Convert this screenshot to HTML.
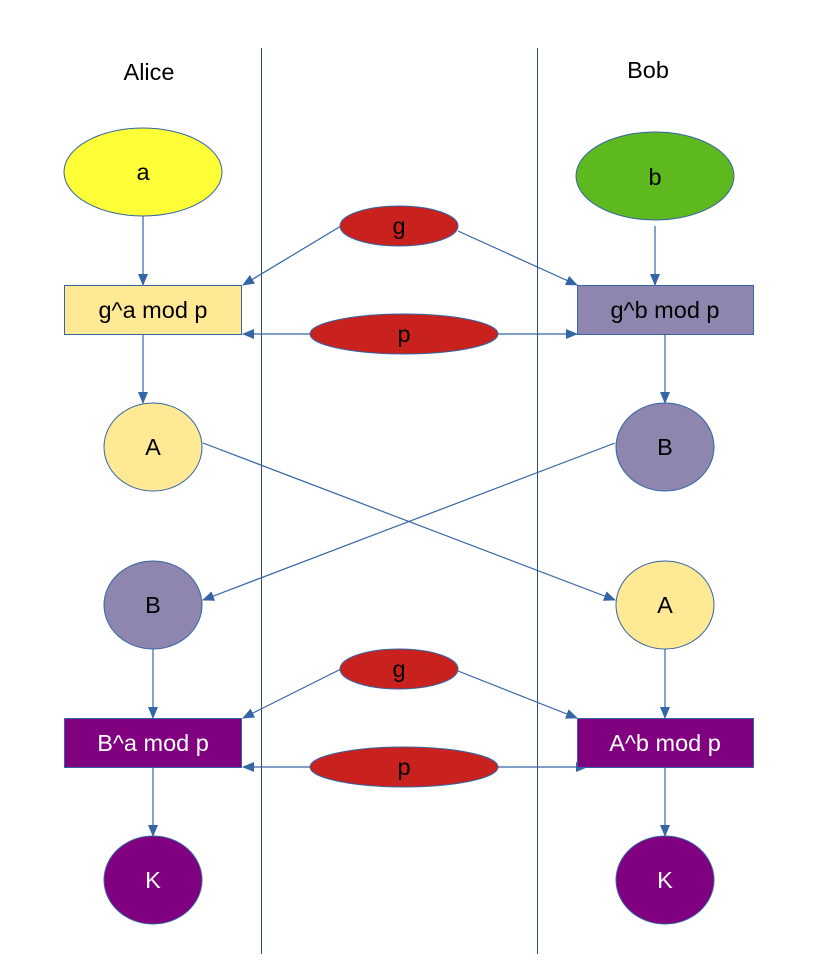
<!DOCTYPE html>
<html><head><meta charset="utf-8"><style>
html,body{margin:0;padding:0;background:#fff;}
svg text{font-family:"Liberation Sans",sans-serif;font-size:23.5px;text-anchor:middle;dominant-baseline:central;}
</style></head><body>
<svg width="831" height="966" viewBox="0 0 831 966" xmlns="http://www.w3.org/2000/svg">
<defs>
<marker id="ar" markerWidth="12" markerHeight="10" refX="11" refY="5" orient="auto" markerUnits="userSpaceOnUse">
<path d="M0,0 L12,5 L0,10 Z" fill="#3465a4"/></marker>
</defs>
<g stroke="#2e4a6e" stroke-width="1">
<line x1="261.5" y1="48" x2="261.5" y2="954"/>
<line x1="537.5" y1="48" x2="537.5" y2="954"/>
</g>
<text x="149" y="72">Alice</text>
<text x="648" y="70">Bob</text>
<g stroke="#3465a4" stroke-width="1.2" fill="none" marker-end="url(#ar)">
<line x1="143" y1="216" x2="143" y2="285"/>
<line x1="341" y1="226" x2="243" y2="285"/>
<line x1="458" y1="231" x2="577" y2="285"/>
<line x1="311" y1="334" x2="243" y2="334"/>
<line x1="497" y1="334" x2="577" y2="334"/>
<line x1="143" y1="334" x2="143" y2="403"/>
<line x1="655" y1="226" x2="655" y2="285"/>
<line x1="665" y1="334" x2="665" y2="403"/>
<line x1="203" y1="443" x2="615" y2="600"/>
<line x1="615" y1="443" x2="203" y2="600"/>
<line x1="153" y1="649" x2="153" y2="718"/>
<line x1="665" y1="649" x2="665" y2="718"/>
<line x1="341" y1="669" x2="243" y2="718"/>
<line x1="458" y1="671" x2="577" y2="718"/>
<line x1="311" y1="767" x2="243" y2="767"/>
<line x1="497" y1="767" x2="587" y2="767"/>
<line x1="153" y1="767" x2="153" y2="836"/>
<line x1="665" y1="767" x2="665" y2="836"/>
</g>
<g stroke="#3465a4" stroke-width="1">
<ellipse cx="143" cy="172" rx="79" ry="44" fill="#ffff38"/>
<ellipse cx="655" cy="176" rx="79" ry="44" fill="#5eb91e"/>
<ellipse cx="399" cy="226" rx="59" ry="20" fill="#c9211e"/>
<ellipse cx="404" cy="334" rx="94" ry="20" fill="#c9211e"/>
<rect x="64.5" y="285.5" width="177" height="49" fill="#ffe994"/>
<rect x="577.5" y="285.5" width="176" height="49" fill="#8e86ae"/>
<ellipse cx="153" cy="447" rx="49" ry="44" fill="#ffe994"/>
<ellipse cx="665" cy="447" rx="49" ry="44" fill="#8e86ae"/>
<ellipse cx="153" cy="605" rx="49" ry="44" fill="#8e86ae"/>
<ellipse cx="665" cy="605" rx="49" ry="44" fill="#ffe994"/>
<ellipse cx="399" cy="669" rx="59" ry="20" fill="#c9211e"/>
<ellipse cx="404" cy="767" rx="94" ry="20" fill="#c9211e"/>
<rect x="64.5" y="718.5" width="177" height="49" fill="#800080"/>
<rect x="577.5" y="718.5" width="176" height="49" fill="#800080"/>
<ellipse cx="153" cy="880" rx="49" ry="44" fill="#800080"/>
<ellipse cx="665" cy="880" rx="49" ry="44" fill="#800080"/>
</g>
<text x="143" y="172">a</text>
<text x="655" y="177">b</text>
<text x="399" y="226">g</text>
<text x="404" y="334">p</text>
<text x="153" y="310">g^a mod p</text>
<text x="665" y="310">g^b mod p</text>
<text x="153" y="447">A</text>
<text x="665" y="447">B</text>
<text x="153" y="605">B</text>
<text x="665" y="605">A</text>
<text x="399" y="669">g</text>
<text x="404" y="767">p</text>
<text x="153" y="743" fill="#fff">B^a mod p</text>
<text x="665" y="743" fill="#fff">A^b mod p</text>
<text x="153" y="880" fill="#fff">K</text>
<text x="665" y="880" fill="#fff">K</text>
</svg>
</body></html>
